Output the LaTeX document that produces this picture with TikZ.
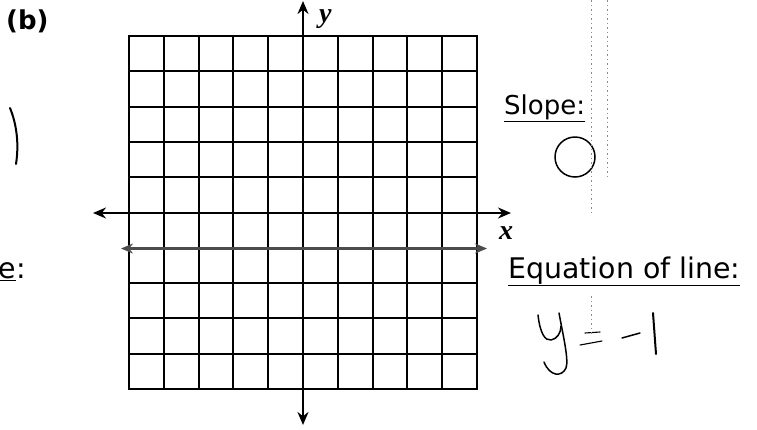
\documentclass[tikz,border=0pt]{standalone}
\usepackage{fontspec}
\setmainfont{DejaVu Sans}
\newfontfamily\labfont{Liberation Serif}
\usetikzlibrary{arrows.meta}

\begin{document}
\begin{tikzpicture}[
  x=1pt, y=-1pt,
  cell/.style={line width=2pt, black},
  axisarr/.style={{Stealth[length=13pt,width=11pt]}-{Stealth[length=13pt,width=11pt]}, line width=2pt},
  graphline/.style={{Stealth[length=12pt,width=10pt]}-{Stealth[length=12pt,width=10pt]}, line width=3pt, black!70},
  hand/.style={line width=1.5pt, line cap=round, line join=round},
  word/.style={inner sep=0pt, font=\fontsize{26}{30}\selectfont},
  wide/.style={word, font=\fontsize{28.4}{32}\selectfont},
  lab/.style={inner sep=0pt, font=\labfont\bfseries\itshape\fontsize{28}{28}\selectfont},
  speck/.style={black!45, line width=1pt, dash pattern=on 1.5pt off 3pt}]
\useasboundingbox (0,0) rectangle (757,429);
\foreach \i in {0,...,10} {
  \pgfmathtruncatemacro\gx{129+34.8*\i+0.5}
  \pgfmathtruncatemacro\gy{36+35.3*\i+0.5}
  \draw[cell] (\gx,36) -- (\gx,389);
  \draw[cell] (128,\gy) -- (478,\gy);
}
\coordinate (xl) at (93,213);
\coordinate (xr) at (511,213);
\coordinate (yt) at (303,1);
\coordinate (yb) at (303,425);
\coordinate (ll) at (121,248.5);
\coordinate (lr) at (487,248.5);
\draw[axisarr] (xl) -- (xr);
\draw[axisarr] (yt) -- (yb);
\draw[graphline] (ll) -- (lr);
\node[lab, anchor=base west] (ylab) at (319,22) {y};
\node[lab, anchor=base west] (xlab) at (499,239) {x};
\node[word, anchor=base west, font=\bfseries\fontsize{26}{28}\selectfont] (part) at (6,29) {(b)};
\node[word, anchor=base west] (slope) at (504,114) {\underline{Slope:}};
\node[wide, anchor=base west] (eqn) at (508,278) {\underline{Equation of line:}};
\node[wide, anchor=base east] (tail) at (26,278) {\underline{e}:};
\draw[hand, line width=2pt] (10,108) .. controls (17,125) and (19,145) .. (16,164);
\draw[hand] (575,157) circle [radius=20pt];
\draw[hand] (538,315) .. controls (540,333) and (545,341) .. (551,340) .. controls (557,339) and (561,333) .. (561,326);
\draw[hand] (559,313) .. controls (563,335) and (569,360) .. (566,368) .. controls (562,377) and (550,377) .. (544,362);
\draw[hand, line width=1.1pt] (585,333) -- (600,332);
\draw[hand, line width=1.1pt] (580,345) -- (602,341);
\draw[hand] (622,338) -- (640,333);
\draw[hand, line width=2pt] (653,313) -- (656,354);
\draw[speck] (591,0) -- (591,214);
\draw[speck] (607,0) -- (607,180);
\draw[speck] (591,296) -- (591,334);
\end{tikzpicture}
\end{document}
